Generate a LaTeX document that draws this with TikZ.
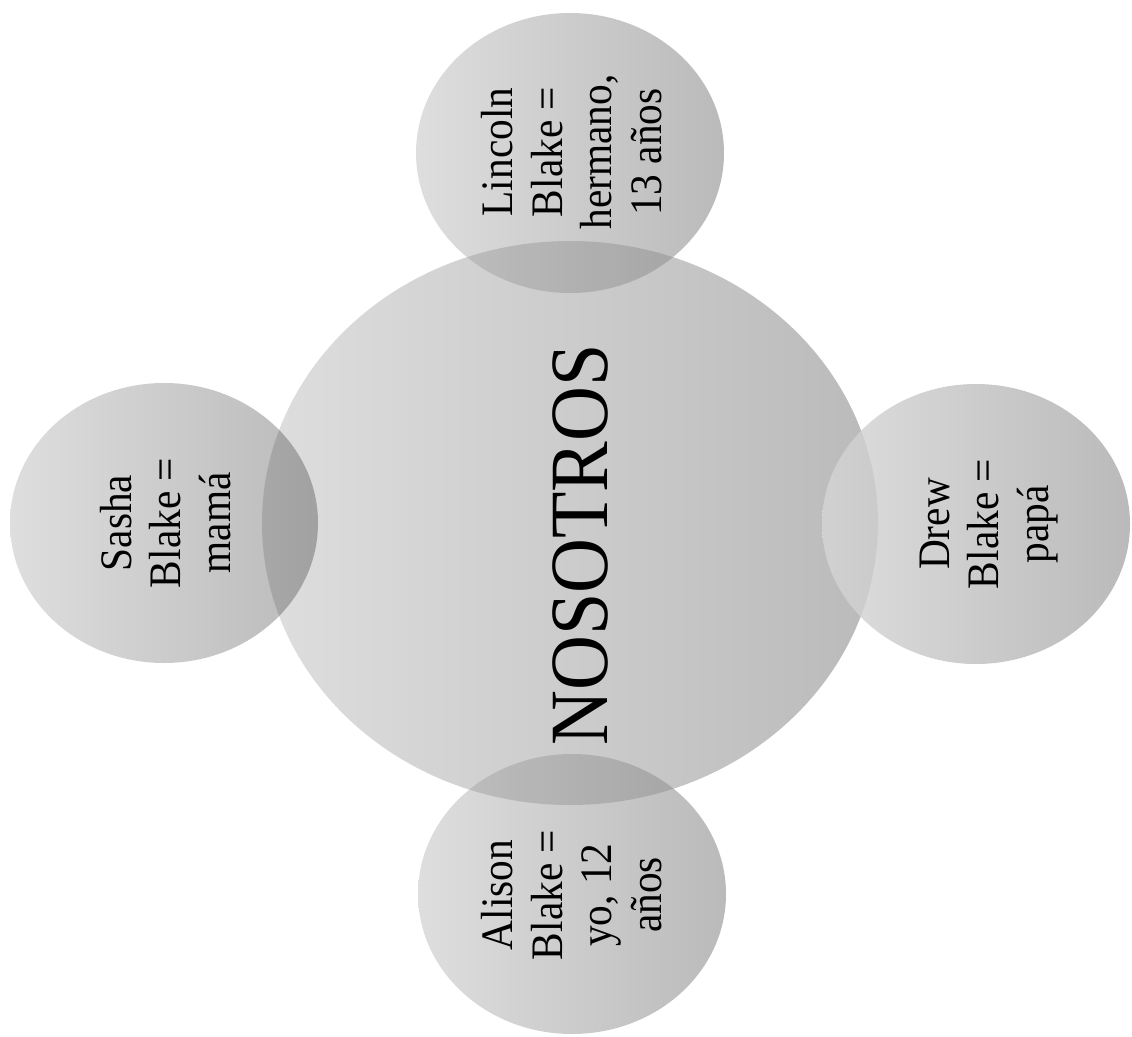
\documentclass[tikz,border=0pt]{standalone}
\usepackage{fontspec}
\usepackage{graphicx}
\setmainfont{Liberation Serif}
\usetikzlibrary{shapes.geometric}
\definecolor{gl}{HTML}{DEDEDE}
\definecolor{gd}{HTML}{BABABA}
\newcommand{\stretchtxt}[1]{\scalebox{1}[1.09]{#1}}
\newcommand{\sattxt}[1]{\stretchtxt{\fontsize{31}{34}\selectfont\begin{tabular}{@{}c@{}}#1\end{tabular}}}
\begin{document}
\begin{tikzpicture}[x=0.75pt,y=-0.75pt,
  bigcirc/.style={ellipse, minimum width=462pt, minimum height=423pt, inner sep=0pt, left color=gl, right color=gd},
  smallcirc/.style={ellipse, minimum width=231pt, minimum height=210pt, inner sep=0pt, left color=gl, right color=gd},
  lbl/.style={rotate=90, inner sep=0pt, text=black},
  lens/.style={fill=black, fill opacity=#1}]
\useasboundingbox (0,0) rectangle (1132,1036);
% circles
\node[bigcirc] (c) at (570,523) {};
\node[smallcirc] (lin) at (570,153) {};
\node[smallcirc] (sas) at (164,523) {};
\node[smallcirc] (drw) at (976,524) {};
\node[smallcirc] (ali) at (572,894) {};
% overlap lenses
\begin{scope}
  \clip (c.center) ellipse [x radius=231pt, y radius=211.5pt];
  \fill[lens=0.13] (lin.center) ellipse [x radius=115.5pt, y radius=105pt];
  \fill[lens=0.13] (sas.center) ellipse [x radius=115.5pt, y radius=105pt];
  \fill[lens=0.06] (drw.center) ellipse [x radius=115.5pt, y radius=105pt];
  \fill[lens=0.13] (ali.center) ellipse [x radius=115.5pt, y radius=105pt];
\end{scope}
% texts
\node[lbl] (tc) at (580,545) {\stretchtxt{\fontsize{57}{60}\selectfont NOSOTROS}};
\node[lbl] (tlin) at (577,152) {\sattxt{Lincoln\\Blake =\\hermano,\\13 años}};
\node[lbl] (tsas) at (171,523) {\sattxt{Sasha\\Blake =\\mamá}};
\node[lbl] (tdrw) at (989,524) {\sattxt{Drew\\Blake =\\papá}};
\node[lbl] (tali) at (577,895) {\sattxt{Alison\\Blake =\\yo, 12\\años}};
\end{tikzpicture}
\end{document}
